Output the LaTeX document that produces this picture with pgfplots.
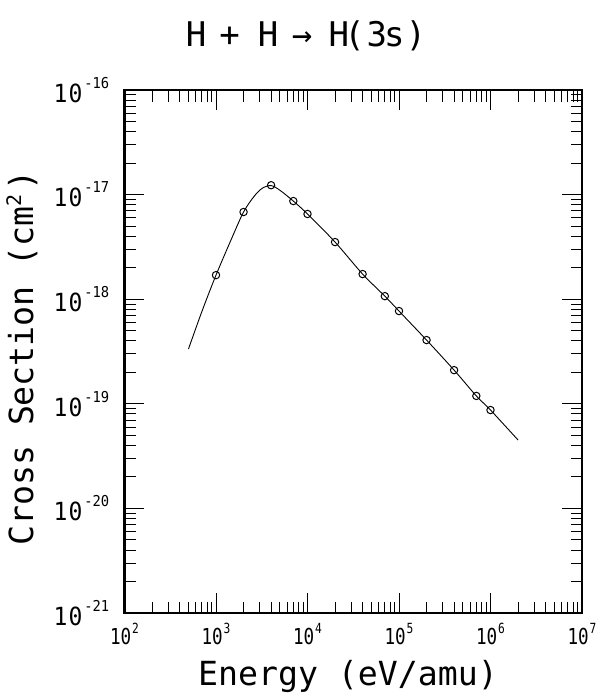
\documentclass[border=0pt]{standalone}
\usepackage{fontspec}
\usepackage{pgfplots}
\pgfplotsset{compat=1.18}
\setmainfont{DejaVu Sans Mono}
\newfontfamily\tickfont[FakeStretch=0.8]{DejaVu Sans Mono}
\newfontfamily\ytickfont[FakeStretch=0.92]{DejaVu Sans Mono}
\newcommand\ylab[1]{{\ytickfont\fontsize{25}{25}\selectfont 1\kern1pt 0\kern2pt\raisebox{14pt}{\fontsize{15}{15}\selectfont #1}}}
\newcommand\xlab[1]{{\tickfont\fontsize{22}{22}\selectfont 10\kern1pt\raisebox{11pt}{\fontsize{14}{14}\selectfont #1}}}
\pgfplotstableread{
x y
1e3 1.70e-18
2e3 6.82e-18
4e3 1.23e-17
7e3 8.68e-18
1e4 6.53e-18
2e4 3.52e-18
4e4 1.74e-18
7e4 1.07e-18
1e5 7.71e-19
2e5 4.07e-19
4e5 2.10e-19
7e5 1.19e-19
1e6 8.72e-20
}\pts
\pgfplotstableread{
x y
5e2 3.34e-19
7e2 7.6e-19
1e3 1.70e-18
1.5e3 3.9e-18
2e3 6.82e-18
2.6e3 9.6e-18
3.2e3 1.15e-17
4e3 1.22e-17
5e3 1.10e-17
7e3 8.68e-18
1e4 6.53e-18
2e4 3.52e-18
4e4 1.74e-18
7e4 1.07e-18
1e5 7.71e-19
2e5 4.07e-19
4e5 2.10e-19
7e5 1.19e-19
1e6 8.72e-20
2e6 4.51e-20
}\curve
\begin{document}
\begin{tikzpicture}
\useasboundingbox (0,0) rectangle (598pt,696pt);
\begin{axis}[
  at={(124.5pt,83pt)}, anchor=south west,
  width=457.5pt, height=523pt, scale only axis,
  xmode=log, ymode=log,
  xmin=1e2, xmax=1e7, ymin=1e-21, ymax=1e-16,
  xtick={1e2,1e3,1e4,1e5,1e6,1e7},
  xticklabels={\xlab{2},\xlab{3},\xlab{4},\xlab{5},\xlab{6},\xlab{7}},
  ytick={1e-21,1e-20,1e-19,1e-18,1e-17,1e-16},
  yticklabels={\ylab{-21},\ylab{-20},\ylab{-19},\ylab{-18},\ylab{-17},\ylab{-16}},
  tick align=inside,
  major tick length=20pt, minor tick length=11.5pt,
  every tick/.style={black, line width=1pt},
  axis line style={line width=2.5pt},
  xticklabel style={anchor=north, inner sep=0pt, yshift=-10pt},
  yticklabel style={anchor=east, inner sep=0pt, xshift=-15pt},
  title={\fontsize{34}{34}\selectfont H\hspace{13pt}+\hspace{18pt}H\hspace{13.5pt}→\hspace{16.5pt}H\kern-5pt(\kern2pt 3\kern-3pt s\kern1pt)},
  title style={at={(axis description cs:0.3967,1.07266)}, anchor=base, inner sep=0pt},
  xlabel={\fontsize{33.2}{33.2}\selectfont Energy (eV/amu)},
  xlabel style={at={(axis description cs:0.4885,-0.13767)}, anchor=base, inner sep=0pt},
  ylabel={\fontsize{33.2}{33.2}\selectfont Cross Section (cm\makebox[16pt][l]{\raisebox{12pt}{\fontsize{20}{20}\selectfont 2}})},
  ylabel style={at={(axis description cs:-0.2,0.4876)}, anchor=base, inner sep=0pt},
]
\addplot[black, line width=0.9pt, smooth, no marks] table[x=x,y=y]{\curve};
\addplot[black, only marks, mark=o, mark size=3.7pt, mark options={line width=1pt}] table[x=x,y=y]{\pts};
\end{axis}
\end{tikzpicture}
\end{document}
